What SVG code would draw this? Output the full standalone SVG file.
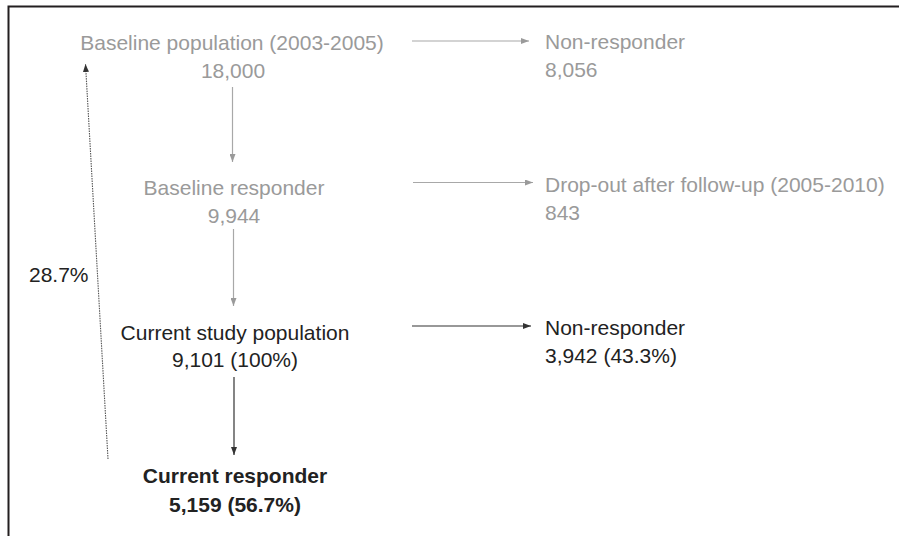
<svg xmlns="http://www.w3.org/2000/svg" width="899" height="536" viewBox="0 0 899 536">
<style>
text{font-family:"Liberation Sans",Arial,sans-serif;font-size:21px}
.g{fill:#9a9a9a}
.k{fill:#222}
.b{font-weight:bold}
.c{text-anchor:middle}
.lg{stroke:#a8a8a8;stroke-width:1.2;fill:none}
.lk{stroke:#333;stroke-width:1.2;fill:none}
</style>
<defs>
<marker id="ag" viewBox="0 0 8 6" refX="8" refY="3" markerWidth="8" markerHeight="6" markerUnits="userSpaceOnUse" orient="auto"><path d="M0,0L8,3L0,6z" fill="#9a9a9a"/></marker>
<marker id="ak" viewBox="0 0 8 6" refX="8" refY="3" markerWidth="8" markerHeight="6" markerUnits="userSpaceOnUse" orient="auto"><path d="M0,0L8,3L0,6z" fill="#333"/></marker>
</defs>
<rect width="899" height="536" fill="#fff"/>
<path d="M8.5,536V6.5H899" stroke="#231f20" stroke-width="2" fill="none"/>
<g id="connectors">
<line class="lg" x1="232.5" y1="87" x2="232.5" y2="162" marker-end="url(#ag)"/>
<line class="lg" x1="233.5" y1="229" x2="233.5" y2="306" marker-end="url(#ag)"/>
<line class="lk" x1="234" y1="377" x2="234" y2="455" marker-end="url(#ak)"/>
<line class="lg" x1="412" y1="41" x2="529" y2="41" marker-end="url(#ag)"/>
<line class="lg" x1="413" y1="182.5" x2="533" y2="182.5" marker-end="url(#ag)"/>
<line class="lk" x1="412" y1="326" x2="531" y2="326" marker-end="url(#ak)"/>
<line x1="108" y1="459" x2="85.5" y2="64" stroke="#555" stroke-width="1.1" stroke-dasharray="1.5 1" marker-end="url(#ak)"/>
</g>
<g id="baseline-population"><text class="g c" x="232" y="50">Baseline population (2003-2005)</text><text class="g c" x="233" y="78">18,000</text></g>
<g id="non-responder-1"><text class="g" x="545" y="49">Non-responder</text><text class="g" x="545" y="77">8,056</text></g>
<g id="baseline-responder"><text class="g c" x="234" y="195">Baseline responder</text><text class="g c" x="234" y="223">9,944</text></g>
<g id="drop-out"><text class="g" x="545" y="192">Drop-out after follow-up (2005-2010)</text><text class="g" x="545" y="220">843</text></g>
<g id="current-study-population"><text class="k c" x="235" y="340">Current study population</text><text class="k c" x="235" y="367">9,101 (100%)</text></g>
<g id="non-responder-2"><text class="k" x="545" y="335">Non-responder</text><text class="k" x="545" y="363">3,942 (43.3%)</text></g>
<g id="current-responder"><text class="k c b" x="235" y="483">Current responder</text><text class="k c b" x="235" y="512">5,159 (56.7%)</text></g>
<g id="label-28"><text class="k" x="29" y="282">28.7%</text></g>
</svg>
